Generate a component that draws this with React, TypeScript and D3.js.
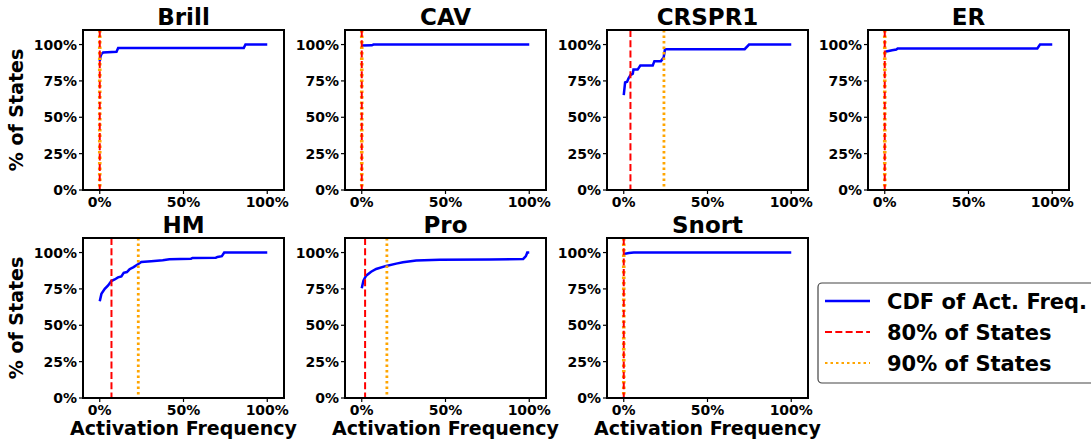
import * as d3 from "d3";

// CDF points per program: [activation frequency, share of states]
const brill: [number, number][] = [[0, 0.886], [0.005, 0.92], [0.01, 0.935], [0.02, 0.945], [0.1, 0.95], [0.11, 0.977], [0.86, 0.977], [0.87, 1.0], [1.0, 1.0]];
const cav: [number, number][] = [[0, 0.993], [0.06, 0.995], [0.07, 1.0], [1.0, 1.0]];
const crspr1: [number, number][] = [[0, 0.652], [0.008, 0.739], [0.02, 0.744], [0.028, 0.767], [0.04, 0.79], [0.054, 0.8], [0.058, 0.828], [0.083, 0.828], [0.099, 0.856], [0.173, 0.856], [0.183, 0.886], [0.222, 0.886], [0.238, 0.91], [0.246, 0.968], [0.722, 0.968], [0.748, 1.0], [1.0, 1.0]];
const er: [number, number][] = [[0, 0.943], [0.01, 0.952], [0.044, 0.961], [0.069, 0.966], [0.077, 0.973], [0.911, 0.973], [0.927, 1.0], [1.0, 1.0]];
const hm: [number, number][] = [[0, 0.665], [0.01, 0.716], [0.03, 0.75], [0.05, 0.774], [0.069, 0.804], [0.089, 0.815], [0.109, 0.829], [0.129, 0.836], [0.143, 0.86], [0.162, 0.866], [0.178, 0.885], [0.202, 0.9], [0.228, 0.919], [0.248, 0.935], [0.307, 0.94], [0.376, 0.947], [0.416, 0.954], [0.545, 0.958], [0.554, 0.963], [0.693, 0.965], [0.703, 0.97], [0.729, 0.975], [0.743, 1.0], [1.0, 1.0]];
const pro: [number, number][] = [[0, 0.755], [0.01, 0.806], [0.026, 0.841], [0.056, 0.868], [0.086, 0.887], [0.146, 0.908], [0.206, 0.924], [0.246, 0.933], [0.325, 0.945], [0.465, 0.95], [0.764, 0.952], [0.964, 0.956], [0.98, 0.975], [0.988, 1.0], [1.0, 1.0]];
const snort: [number, number][] = [[0, 0.99], [0.03, 0.997], [0.06, 1.0], [1.0, 1.0]];

const names = ["Brill", "CAV", "CRSPR1", "ER", "HM", "Pro", "Snort"];
const curves = [brill, cav, crspr1, er, hm, pro, snort];
const line80 = [0, 0, 0.04, 0, 0.07, 0.02, 0];
const line90 = [0, 0, 0.24, 0, 0.23, 0.15, 0];

const xTicks = [0, 0.5, 1];
const yTicks = [0, 0.25, 0.5, 0.75, 1];
const legendLabels = ["CDF of Act. Freq.", "80% of States", "90% of States"];

const W = 1091;
const H = 443;
const colLeft = [83, 345, 607, 868];
const rowTop = [30, 238];
const pw = 201;
const ph = 160;
const font = "DejaVu Sans, Verdana, sans-serif";
const pct = d3.format(".0%");

function Panel({ i }: { i: number }) {
  const col = i % 4;
  const row = Math.floor(i / 4);
  const left = colLeft[col];
  const top = rowTop[row];
  const x = d3.scaleLinear().domain([-0.1, 1.1]).range([0, pw]);
  const y = d3.scaleLinear().domain([0, 1.1]).range([ph, 0]);
  const line = d3
    .line<[number, number]>()
    .x((d) => x(d[0]))
    .y((d) => y(d[1]));
  return (
    <g transform={`translate(${left},${top})`} fontFamily={font} fontWeight="bold">
      <text x={pw / 2} y={-5} textAnchor="middle" fontSize={23}>
        {names[i]}
      </text>
      <path d={line(curves[i]) ?? ""} fill="none" stroke="#0000ff" strokeWidth={2.5} />
      <line x1={x(line90[i])} x2={x(line90[i])} y1={0} y2={ph} stroke="orange" strokeWidth={line90[i] === line80[i] ? 3.6 : 2.8} strokeDasharray="2.5,3" />
      <line x1={x(line80[i])} x2={x(line80[i])} y1={0} y2={ph} stroke="red" strokeWidth={2} strokeDasharray="7,3.3" />
      <rect x={0} y={0} width={pw} height={ph} fill="none" stroke="black" strokeWidth={2} />
      {yTicks.map((t) => (
        <g key={t} transform={`translate(0,${y(t)})`}>
          <line x1={-4} x2={0} stroke="black" strokeWidth={1.2} />
          <text x={-6} dy="0.36em" textAnchor="end" fontSize={14}>
            {pct(t)}
          </text>
        </g>
      ))}
      {xTicks.map((t) => (
        <g key={t} transform={`translate(${x(t)},${ph})`}>
          <line y1={0} y2={4} stroke="black" strokeWidth={1.2} />
          <text y={17} textAnchor="middle" fontSize={14}>
            {pct(t)}
          </text>
        </g>
      ))}
      {col === 0 && (
        <text transform={`translate(${-60},${ph / 2}) rotate(-90)`} textAnchor="middle" fontSize={19}>
          % of States
        </text>
      )}
      {row === 1 && (
        <text x={pw / 2} y={ph + 37} textAnchor="middle" fontSize={19}>
          Activation Frequency
        </text>
      )}
    </g>
  );
}

export default function App() {
  const lx = 818;
  const ly = 283;
  return (
    <svg width={W} height={H} style={{ position: "absolute", left: 0, top: 0, background: "white" }}>
      {names.map((_, i) => (
        <Panel key={i} i={i} />
      ))}
      <g fontFamily={font} fontWeight="bold">
        <rect x={lx} y={ly} width={300} height={100} rx={4} fill="white" stroke="#444" strokeWidth={1.2} />
        {legendLabels.map((lab, k) => {
          const yy = ly + 18 + k * 31;
          return (
            <g key={lab}>
              <line
                x1={lx + 7}
                x2={lx + 52}
                y1={yy}
                y2={yy}
                stroke={k === 0 ? "#0000ff" : k === 1 ? "red" : "orange"}
                strokeWidth={k === 0 ? 2.5 : 2}
                strokeDasharray={k === 0 ? undefined : k === 1 ? "7,3.3" : "2.5,3"}
              />
              <text x={lx + 69} y={yy} dy="0.36em" fontSize={21}>
                {lab}
              </text>
            </g>
          );
        })}
      </g>
    </svg>
  );
}
